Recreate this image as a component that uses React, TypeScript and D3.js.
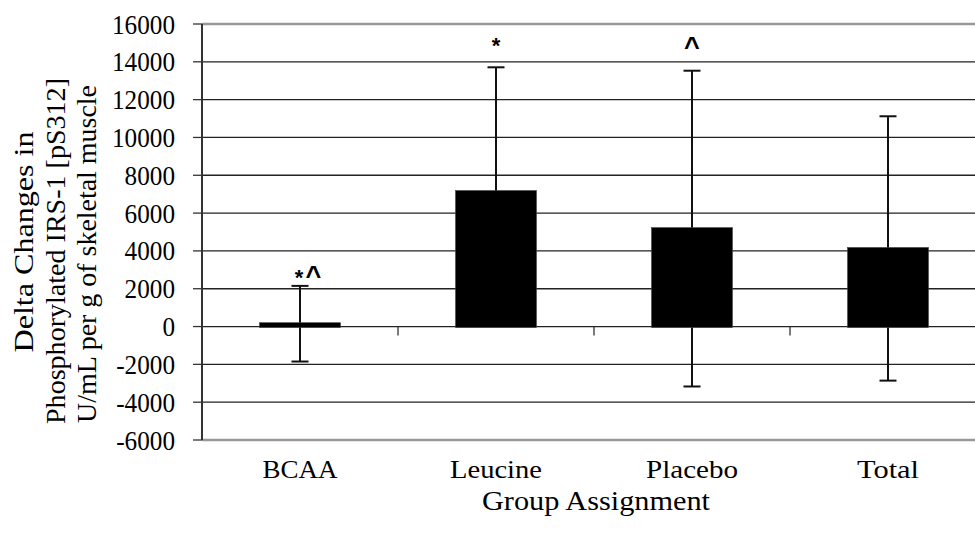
import React from "react";
import * as d3 from "d3";

// Data
const groups = ["BCAA", "Leucine", "Placebo", "Total"];
const means = [150, 7140, 5180, 4130];
const sds = [2000, 6570, 8350, 6990];
const marks = [
  ["*", "^"],
  ["*"],
  ["^"],
  [],
];
const yTicks = [-6000, -4000, -2000, 0, 2000, 4000, 6000, 8000, 10000, 12000, 14000, 16000];
const titleLines = [
  "Delta Changes in",
  "Phosphorylated IRS-1 [pS312]",
  "U/mL per g of skeletal muscle",
];

const W = 975;
const H = 535;
const serif = "'Liberation Serif', 'Times New Roman', serif";
const sans = "'Liberation Sans', Arial, sans-serif";

// widths of the (condensed) text in the original
const catWidths = { BCAA: 75, Leucine: 92, Placebo: 92, Total: 62 };
const titleLayout = [
  { x: 33, cy: 242, len: 221 },
  { x: 65, cy: 251, len: 346 },
  { x: 96, cy: 254, len: 338 },
];
const markOffsets = [1, 14, 15, 0];

const App = () => {
  const plotLeft = 202;
  const plotTop = 24;
  const plotBottom = 440;

  const x = d3.scaleBand().domain(groups).range([202, 986]).padding(0);
  const y = d3.scaleLinear().domain([-6000, 16000]).range([plotBottom, plotTop]);

  const barW = x.bandwidth() * 0.413;
  const capW = 17;
  const y0 = y(0);
  const boundaries = groups.slice(1).map((g) => x(g));
  const cx = (g) => x(g) + x.bandwidth() / 2;

  return (
    <svg
      width={W}
      height={H}
      style={{ position: "absolute", left: 0, top: 0, background: "#fff" }}
    >
      {/* gridlines */}
      {yTicks
        .filter((t) => t > -6000 && t < 16000)
        .map((t) => (
          <line
            key={t}
            x1={plotLeft}
            x2={W}
            y1={y(t)}
            y2={y(t)}
            stroke="#222"
            strokeWidth={1.3}
          />
        ))}

      {/* plot border top/bottom */}
      <line x1={plotLeft} x2={W} y1={y(16000)} y2={y(16000)} stroke="#999" strokeWidth={2.5} />
      <line x1={plotLeft} x2={W} y1={y(-6000)} y2={y(-6000)} stroke="#999" strokeWidth={2.5} />

      {/* category ticks on zero line */}
      {boundaries.map((b, i) => (
        <line key={i} x1={b} x2={b} y1={y0} y2={y0 + 9} stroke="#222" strokeWidth={1.2} />
      ))}

      {/* error bars */}
      {groups.map((g, i) => {
        const hi = y(means[i] + sds[i]);
        const lo = y(means[i] - sds[i]);
        const c = cx(g);
        return (
          <g key={g} stroke="#111" strokeWidth={2}>
            <line x1={c} x2={c} y1={hi} y2={lo} />
            <line x1={c - capW / 2} x2={c + capW / 2} y1={hi} y2={hi} />
            <line x1={c - capW / 2} x2={c + capW / 2} y1={lo} y2={lo} />
          </g>
        );
      })}

      {/* bars */}
      {groups.map((g, i) => {
        const top = Math.min(y(means[i]), y0);
        const h = Math.abs(y(means[i]) - y0);
        return (
          <rect
            key={g}
            x={cx(g) - barW / 2}
            y={top - 1}
            width={barW}
            height={h + 2}
            fill="#000"
            stroke="#444"
            strokeWidth={0.6}
          />
        );
      })}

      {/* significance marks */}
      {groups.map((g, i) =>
        marks[i].length ? (
          <text
            key={g}
            x={cx(g) + (marks[i].length > 1 ? 8 : 0)}
            y={y(means[i] + sds[i]) - markOffsets[i]}
            textAnchor="middle"
            fontFamily={sans}
            fontWeight="bold"
            fill="#000"
          >
            {marks[i].map((m, j) => (
              <tspan key={j} fontSize={m === "^" ? 27 : 22} dx={j > 0 ? 2 : 0}>
                {m}
              </tspan>
            ))}
          </text>
        ) : null
      )}

      {/* y axis */}
      <line x1={plotLeft} x2={plotLeft} y1={plotTop} y2={plotBottom} stroke="#333" strokeWidth={2} />
      {yTicks.map((t) => (
        <g key={t}>
          <line x1={plotLeft - 9} x2={plotLeft} y1={y(t)} y2={y(t)} stroke="#333" strokeWidth={1.3} />
          <text
            transform={`translate(175,${y(t)}) scale(0.9,1)`}
            dy="0.34em"
            textAnchor="end"
            fontFamily={serif}
            fontSize={28}
            fill="#000"
          >
            {t}
          </text>
        </g>
      ))}

      {/* category labels */}
      {groups.map((g) => (
        <text
          key={g}
          x={cx(g) - catWidths[g] / 2}
          y={478}
          fontFamily={serif}
          fontSize={26}
          textLength={catWidths[g]}
          lengthAdjust="spacingAndGlyphs"
          fill="#000"
        >
          {g}
        </text>
      ))}

      {/* x title */}
      <text
        x={596 - 114}
        y={510}
        fontFamily={serif}
        fontSize={27}
        textLength={228}
        lengthAdjust="spacingAndGlyphs"
        fill="#000"
      >
        Group Assignment
      </text>

      {/* y title */}
      {titleLines.map((line, i) => {
        const l = titleLayout[i];
        return (
          <text
            key={i}
            transform={`translate(${l.x},${l.cy + l.len / 2}) rotate(-90)`}
            fontFamily={serif}
            fontSize={27}
            textLength={l.len}
            lengthAdjust="spacingAndGlyphs"
            fill="#000"
          >
            {line}
          </text>
        );
      })}
    </svg>
  );
};

export default App;
